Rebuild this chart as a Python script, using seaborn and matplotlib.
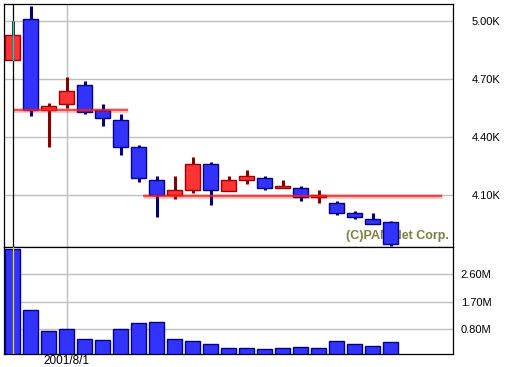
import numpy as np
import pandas as pd
import matplotlib
matplotlib.use("Agg")
import matplotlib.pyplot as plt
import seaborn as sns

# ---- data (weekly candles) ----
opens  = [4800, 5010, 4540, 4570, 4670, 4540, 4490, 4350, 4180, 4100, 4130,
          4260, 4120, 4180, 4190, 4140, 4140, 4090, 4060, 4010, 3980, 3960]
highs  = [5000, 5080, 4580, 4710, 4690, 4570, 4520, 4360, 4200, 4200, 4300,
          4270, 4200, 4230, 4200, 4180, 4150, 4130, 4070, 4020, 4010, 3970]
lows   = [4800, 4510, 4350, 4550, 4520, 4460, 4310, 4170, 3990, 4080, 4110,
          4050, 4120, 4160, 4130, 4140, 4070, 4060, 4000, 3980, 3950, 3840]
closes = [4930, 4540, 4560, 4640, 4530, 4500, 4350, 4190, 4100, 4130, 4260,
          4130, 4180, 4200, 4140, 4150, 4090, 4100, 4010, 3990, 3950, 3850]
volumes = [3.42, 1.42, 0.74, 0.80, 0.50, 0.47, 0.80, 1.00, 1.04, 0.50, 0.41,
           0.34, 0.18, 0.18, 0.15, 0.19, 0.22, 0.19, 0.42, 0.34, 0.27, 0.38]
price_ticks = [5000, 4700, 4400, 4100]
price_tick_labels = ["5.00K", "4.70K", "4.40K", "4.10K"]
vol_ticks = [2.6, 1.7, 0.8]
vol_tick_labels = ["2.60M", "1.70M", "0.80M"]
date_pos = 3
date_label = "2001/8/1"
support_lines = [(0.04, 6.43, 4540), (7.23, 23.84, 4096)]

sns.set_theme(style="white")
plt.rcParams['font.family'] = ['Liberation Sans', 'DejaVu Sans']

W, H = 507, 367
fig = plt.figure(figsize=(W / 100, H / 100), dpi=100)
fig.patch.set_facecolor("white")

def fx(px):
    return px / W

def fy(py):
    return 1 - py / H

left, right = 4.3, 452.5
ax = fig.add_axes([fx(left), fy(247), fx(right - left), fy(4.3) - fy(247)])
axv = fig.add_axes([fx(left), fy(354), fx(right - left), fy(247) - fy(354)])

xlim = ((left - 12.5) / 18, (right - 12.5) / 18)
n = len(opens)
idx = np.arange(n)
df = pd.DataFrame({"i": idx, "open": opens, "high": highs, "low": lows,
                   "close": closes, "vol": volumes})

grid_c = "#c0c0c0"
red_body, red_edge, red_wick = "#ff3333", "#a00000", "#880000"
blue_body, blue_edge, blue_wick = "#3333ff", "#000080", "#000080"

# ---- price panel ----
for t in price_ticks:
    ax.axhline(t, color=grid_c, lw=1.0, zorder=0)
ax.axvline(date_pos, color=grid_c, lw=1.0, zorder=0)

ax.text((449 - 12.5) / 18, 3858, "(C)PAN Net Corp.", ha="right",
        va="bottom", color="#7f7f3f", fontsize=9, fontweight="bold",
        zorder=1)

up = df["close"] >= df["open"]
for sel, bc, ec, wc in [(up, red_body, red_edge, red_wick),
                        (~up, blue_body, blue_edge, blue_wick)]:
    d = df[sel]
    ax.vlines(d["i"], d["low"], d["high"], color=wc, lw=2.2, zorder=2)
    body_lo = np.minimum(d["open"], d["close"])
    body_h = np.maximum(np.abs(d["close"] - d["open"]), 6)
    ax.bar(d["i"], body_h, bottom=body_lo, width=0.86, color=bc,
           edgecolor=ec, linewidth=1.0, zorder=3)

for x0, x1, yv in support_lines:
    ax.plot([x0, x1], [yv, yv], color="#ff0000", alpha=0.25, lw=3.4,
            solid_capstyle="butt", zorder=4)
    ax.plot([x0, x1], [yv, yv], color="#ff2020", alpha=0.75, lw=1.4,
            solid_capstyle="butt", zorder=4)

# cursor line on first candle
ax.axvline(0, color="black", lw=0.9, zorder=5)
ax.plot([0, 0], [highs[0], lows[0]], color="#00d8d8", lw=1.0, zorder=6)

ax.set_xlim(*xlim)
ax.set_ylim(3833, 5088)
ax.set_xticks([])
ax.yaxis.tick_right()
ax.set_yticks(price_ticks)
ax.set_yticklabels(price_tick_labels)
ax.tick_params(axis="y", length=0, pad=13.5, labelsize=8, colors="black")
for s in ax.spines.values():
    s.set_color("black")
    s.set_linewidth(0.9)

# ---- volume panel ----
for t in vol_ticks:
    axv.axhline(t, color=grid_c, lw=1.0, zorder=0)
axv.axvline(date_pos, color=grid_c, lw=1.0, zorder=0)
sns.barplot(data=df, x="i", y="vol", ax=axv, color=blue_body, saturation=1,
            edgecolor=blue_edge, linewidth=1.0, width=0.86, native_scale=True,
            zorder=3)
axv.axvline(0, color="#e0e000", lw=0.9, zorder=5)
axv.set_xlim(*xlim)
axv.set_ylim(0, 3.49)
axv.set_xlabel("")
axv.set_ylabel("")
axv.set_xticks([date_pos])
axv.set_xticklabels([date_label])
axv.tick_params(axis="x", length=0, pad=1, labelsize=8.5, colors="black")
axv.yaxis.tick_right()
axv.set_yticks(vol_ticks)
axv.set_yticklabels(vol_tick_labels)
axv.tick_params(axis="y", length=0, pad=6, labelsize=8, colors="black")
for s in axv.spines.values():
    s.set_color("black")
    s.set_linewidth(0.9)

fig.savefig("out.png", dpi=100, facecolor="white")
